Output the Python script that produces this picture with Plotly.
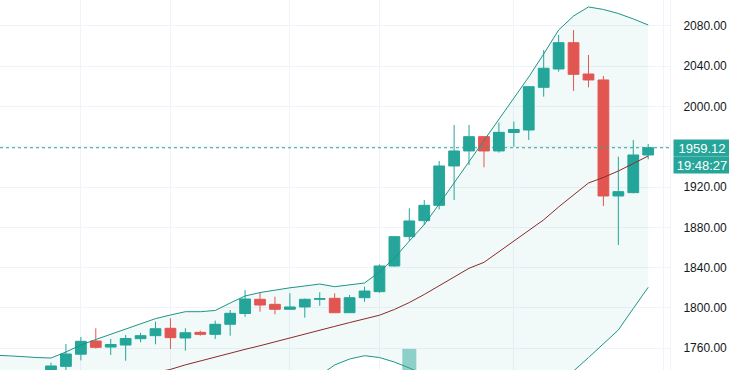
import plotly.graph_objects as go

# ---------------- data ----------------
candle_idx = list(range(0, 41))
opens = [1735.0, 1742.0, 1754.1, 1767.2, 1761.2, 1763.2, 1769.5, 1772.5, 1779.8, 1770.2,
         1775.8, 1773.8, 1783.8, 1794.5, 1808.6, 1803.6, 1798.7, 1801.0, 1808.6, 1809.6,
         1795.3, 1810.2, 1816.2, 1841.7, 1870.8, 1886.7, 1901.9, 1941.0, 1955.9, 1970.1,
         1955.9, 1974.2, 1976.7, 2019.1, 2037.3, 2063.4, 2032.3, 2026.4, 1911.2, 1914.5,
         1951.9]
highs = [1745.6, 1764.3, 1771.2, 1779.8, 1769.2, 1773.1, 1775.4, 1786.4, 1789.7, 1779.8,
         1777.4, 1787.4, 1798.0, 1817.8, 1815.6, 1811.2, 1814.6, 1809.4, 1815.6, 1814.6,
         1812.9, 1821.1, 1843.4, 1871.3, 1899.0, 1907.2, 1945.9, 1981.7, 1981.7, 1970.8,
         1984.0, 1985.0, 2020.4, 2056.2, 2071.1, 2076.0, 2051.2, 2030.3, 1950.2, 1966.8,
         1962.8]
lows = [1730.0, 1735.0, 1748.0, 1759.7, 1753.3, 1747.6, 1765.9, 1763.9, 1759.3, 1757.6,
        1772.5, 1769.2, 1772.5, 1791.3, 1796.3, 1793.7, 1798.5, 1790.3, 1802.2, 1795.3,
        1795.3, 1806.2, 1815.0, 1841.0, 1866.8, 1882.4, 1897.9, 1907.2, 1942.0, 1939.7,
        1954.2, 1960.1, 1966.8, 2009.8, 2034.6, 2015.5, 2019.1, 1901.3, 1862.5, 1913.9,
        1947.6]
closes = [1742.4, 1754.3, 1766.9, 1760.9, 1763.7, 1769.7, 1772.5, 1779.4, 1770.5, 1775.4,
          1773.8, 1783.8, 1794.7, 1808.9, 1802.9, 1798.7, 1801.0, 1808.6, 1809.2, 1795.3,
          1810.2, 1816.8, 1841.7, 1870.8, 1886.4, 1901.9, 1941.0, 1955.9, 1970.1, 1955.9,
          1974.4, 1977.2, 2019.7, 2038.0, 2063.4, 2032.0, 2026.4, 1911.2, 1915.5, 1951.9,
          1959.12]

band_idx = list(range(-4, 41))
bb_upper = [1753.3, 1752.8, 1751.8, 1750.8, 1750.3, 1756.3, 1763.2, 1768.7, 1773.8, 1779.1,
            1784.3, 1789.4, 1793.0, 1796.3, 1796.3, 1797.5, 1804.9, 1811.9, 1815.3, 1818.0,
            1820.0, 1821.8, 1823.8, 1821.1, 1822.8, 1824.8, 1835.7, 1849.6, 1866.5, 1882.8,
            1903.2, 1924.1, 1944.9, 1966.8, 1987.6, 2007.5, 2029.4, 2052.2, 2076.0, 2089.9,
            2098.9, 2096.4, 2092.4, 2087.0, 2081.0]
bb_basis = [1698.0, 1702.0, 1706.0, 1710.0, 1713.0, 1717.0, 1720.0, 1724.0, 1727.0, 1730.0,
            1733.0, 1736.5, 1739.0, 1743.5, 1747.5, 1751.5, 1755.6, 1758.9, 1762.5, 1766.2,
            1769.9, 1773.6, 1777.7, 1781.7, 1785.5, 1789.1, 1792.8, 1798.5, 1805.4, 1813.4,
            1822.3, 1831.2, 1839.4, 1845.3, 1856.0, 1867.0, 1877.6, 1887.5, 1900.3, 1912.2,
            1924.1, 1929.6, 1936.0, 1943.4, 1950.9]
bb_lower = [1643.0, 1652.0, 1660.0, 1668.0, 1676.0, 1678.0, 1677.0, 1679.0, 1680.0, 1681.0,
            1682.0, 1684.0, 1685.0, 1691.0, 1699.0, 1706.0, 1706.0, 1706.0, 1710.0, 1714.0,
            1720.0, 1725.0, 1733.0, 1743.4, 1749.3, 1752.6, 1750.8, 1746.3, 1740.4, 1733.4,
            1726.0, 1720.0, 1716.0, 1712.0, 1712.0, 1714.0, 1716.0, 1718.0, 1722.0, 1737.4,
            1750.7, 1764.3, 1778.1, 1799.5, 1820.5]

vol_idx = [24]
vol_values = [5.7]

y_ticks = [1760, 1800, 1840, 1880, 1920, 1960, 2000, 2040, 2080]
y_tick_text = ["1760.00", "1800.00", "1840.00", "1880.00", "1920.00", "", "2000.00", "2040.00", "2080.00"]
x_grid = [2, 8, 16, 22, 31, 41]
last_price_text = "1959.12"
countdown_text = "19:48:27"

# ---------------- styles ----------------
UP = "#26a69a"
DOWN = "#ef5350"
BAND = "#1f9488"
BASIS = "#8a2a2a"
GRID = "#f0f3fa"
FONT = "Liberation Sans"

fig = go.Figure()

fig.add_trace(go.Scatter(x=band_idx, y=bb_lower, mode="lines",
                         line=dict(color=BAND, width=1), hoverinfo="skip", showlegend=False))
fig.add_trace(go.Scatter(x=band_idx, y=bb_upper, mode="lines", fill="tonexty",
                         fillcolor="rgba(0,150,136,0.05)",
                         line=dict(color=BAND, width=1), hoverinfo="skip", showlegend=False))
fig.add_trace(go.Scatter(x=band_idx, y=bb_basis, mode="lines",
                         line=dict(color=BASIS, width=1), hoverinfo="skip", showlegend=False))

fig.add_trace(go.Bar(x=vol_idx, y=vol_values, yaxis="y2", width=0.94,
                     marker=dict(color="rgba(38,166,154,0.5)", line=dict(width=0)),
                     showlegend=False, hoverinfo="skip"))

fig.add_trace(go.Candlestick(
    x=candle_idx, open=opens, high=highs, low=lows, close=closes,
    increasing=dict(line=dict(color=UP, width=1), fillcolor=UP),
    decreasing=dict(line=dict(color=DOWN, width=1), fillcolor=DOWN),
    whiskerwidth=0, showlegend=False))

last_close = closes[-1]
fig.add_shape(type="line", xref="paper", x0=0, x1=1, yref="y", y0=last_close, y1=last_close,
              line=dict(color=UP, width=1, dash="dot"))

fig.add_annotation(xref="paper", x=1, yref="y", y=last_close, text=last_price_text,
                   showarrow=False, xanchor="left", yanchor="middle", xshift=3,
                   bgcolor=UP, font=dict(family=FONT, size=13, color="white"),
                   width=54, height=14, borderpad=1, align="center")
fig.add_annotation(xref="paper", x=1, yref="y", y=last_close, text=countdown_text,
                   showarrow=False, xanchor="left", yanchor="middle", xshift=3, yshift=-17,
                   bgcolor=UP, font=dict(family=FONT, size=13, color="white"),
                   width=54, height=14, borderpad=1, align="center")

fig.update_layout(
    width=729, height=370,
    margin=dict(l=0, r=59, t=0, b=0),
    paper_bgcolor="white", plot_bgcolor="white",
    boxgap=0.28, boxgroupgap=0,
    showlegend=False,
    font=dict(family=FONT, size=12, color="#131722"),
    xaxis=dict(range=[-3.416, 41.46], rangeslider=dict(visible=False),
               tickvals=x_grid, showticklabels=False, ticks="",
               showgrid=True, gridcolor=GRID, gridwidth=1, zeroline=False,
               showline=False),
    yaxis=dict(range=[1738.4, 2105.8], side="right", tickvals=y_ticks, ticktext=y_tick_text,
               showgrid=True, gridcolor=GRID, gridwidth=1, zeroline=False, ticks="",
               ticklabelstandoff=10, showline=True, linecolor=GRID, linewidth=1,
               tickfont=dict(family=FONT, size=12, color="#131722")),
    yaxis2=dict(range=[0, 100], overlaying="y", visible=False, fixedrange=True),
)

fig.write_html("out.html", config={"displayModeBar": False},
               post_script="document.body.style.margin='0';document.body.style.overflow='hidden';")
